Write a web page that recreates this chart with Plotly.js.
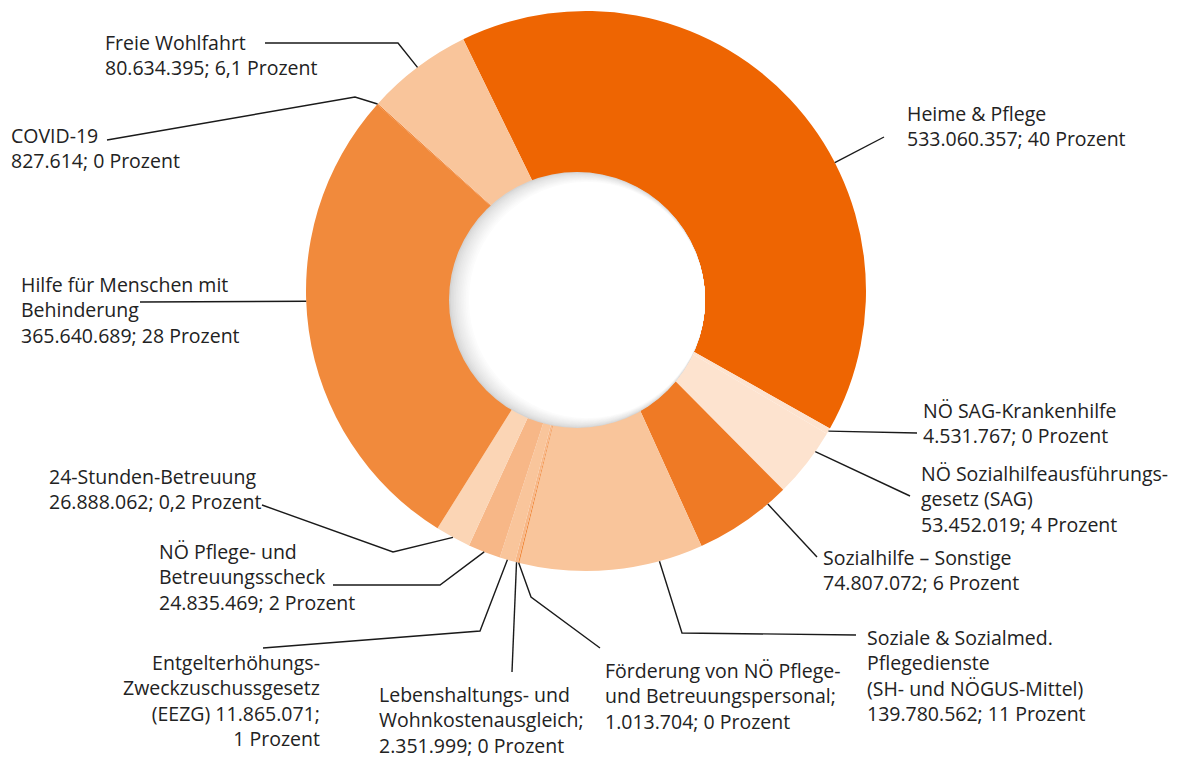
<!DOCTYPE html>
<html><head><meta charset="utf-8">
<script src="https://cdn.plot.ly/plotly-3.0.1.min.js"></script>
<style>html,body{margin:0;padding:0;background:#fff}</style>
</head><body><div id="chart" style="width:1187px;height:760px"></div>
<script>
// ---- data (clockwise, starting with "Heime & Pflege") ----
const categories = [
  "Heime & Pflege",
  "NÖ SAG-Krankenhilfe",
  "NÖ Sozialhilfeausführungsgesetz (SAG)",
  "Sozialhilfe – Sonstige",
  "Soziale & Sozialmed. Pflegedienste (SH- und NÖGUS-Mittel)",
  "Förderung von NÖ Pflege- und Betreuungspersonal",
  "Lebenshaltungs- und Wohnkostenausgleich",
  "Entgelterhöhungs-Zweckzuschussgesetz (EEZG)",
  "NÖ Pflege- und Betreuungsscheck",
  "24-Stunden-Betreuung",
  "Hilfe für Menschen mit Behinderung",
  "COVID-19",
  "Freie Wohlfahrt"
];
const values = [533060357, 4531767, 53452019, 74807072, 139780562, 1013704, 2351999,
                11865071, 24835469, 26888062, 365640689, 827614, 80634395];
const percentLabels = ["40", "0", "4", "6", "11", "0", "0", "1", "2", "0,2", "28", "0", "6,1"];
// label text templates ({v} = value, {p} = percent)
const labelTemplates = [
  "Heime & Pflege<br>{v}; {p} Prozent",
  "NÖ SAG-Krankenhilfe<br>{v}; {p} Prozent",
  "NÖ Sozialhilfeausführungs-<br>gesetz (SAG)<br>{v}; {p} Prozent",
  "Sozialhilfe – Sonstige<br>{v}; {p} Prozent",
  "Soziale & Sozialmed.<br>Pflegedienste<br>(SH- und NÖGUS-Mittel)<br>{v}; {p} Prozent",
  "Förderung von NÖ Pflege-<br>und Betreuungspersonal;<br>{v}; {p} Prozent",
  "Lebenshaltungs- und<br>Wohnkostenausgleich;<br>{v}; {p} Prozent",
  "Entgelterhöhungs-<br>Zweckzuschussgesetz<br>(EEZG) {v};<br>{p} Prozent",
  "NÖ Pflege- und<br>Betreuungsscheck<br>{v}; {p} Prozent",
  "24-Stunden-Betreuung<br>{v}; {p} Prozent",
  "Hilfe für Menschen mit<br>Behinderung<br>{v}; {p} Prozent",
  "COVID-19<br>{v}; {p} Prozent",
  "Freie Wohlfahrt<br>{v}; {p} Prozent"
];
const colors = ["#EE6502", "#FDE3CF", "#FDE3CF", "#EF7A25", "#F9C59B", "#F18A3C", "#F7B787",
                "#F9C59B", "#F7B787", "#FBD5B5", "#F18A3C", "#EF7A25", "#F9C59B"];

// ---- layout (pixels) ----
const W = 1187, H = 760;
const cx = 586, cy = 291, R = 280, ROT = -26;
const FS = 19.5;
// label placement: x, first-line centre y, anchor side, fraction inside slice for leader start, elbow, end
const labelPos = [
  {x: 905, y: 113, side: "left",  frac: 0.61, elbow: null,       end: [884, 137]},
  {x: 921, y: 410, side: "left",  frac: 0.5,  elbow: null,       end: [917, 433]},
  {x: 919, y: 473, side: "left",  frac: 0.3,  elbow: null,       end: [910, 496]},
  {x: 821, y: 557, side: "left",  frac: 0.21, elbow: null,       end: [817, 557]},
  {x: 865, y: 637, side: "left",  frac: 0.24, elbow: [682, 633], end: [856, 635]},
  {x: 603, y: 670, side: "left",  frac: 0.5,  elbow: [531, 597], end: [600, 648]},
  {x: 377, y: 694, side: "left",  frac: 0.5,  elbow: null,       end: [512, 672]},
  {x: 322, y: 662, side: "right", frac: 0.5,  elbow: [480, 631], end: [263, 648]},
  {x: 157, y: 551, side: "left",  frac: 0.5,  elbow: [440, 585], end: [333, 585]},
  {x: 47,  y: 476, side: "left",  frac: 0.5,  elbow: [393, 552], end: [262, 505]},
  {x: 19,  y: 284, side: "left",  frac: 0.56, elbow: null,       end: [140, 302]},
  {x: 9,   y: 135, side: "left",  frac: 0.5,  elbow: [355, 97],  end: [107, 140]},
  {x: 103, y: 42,  side: "left",  frac: 0.5,  elbow: [398, 43],  end: [265, 43]}
];

function fmt(n) { return String(n).replace(/\B(?=(\d{3})+(?!\d))/g, "."); }
const px = x => x / W, py = y => 1 - y / H;

const total = values.reduce((a, b) => a + b, 0);
let acc = 0;
const spans = values.map(v => { const s = ROT + acc / total * 360; acc += v; return [s, ROT + acc / total * 360]; });

const annotations = [], shapes = [];
categories.forEach((c, i) => {
  const lp = labelPos[i];
  const text = labelTemplates[i].replace("{v}", fmt(values[i])).replace("{p}", percentLabels[i]);
  annotations.push({
    xref: "paper", yref: "paper", x: px(lp.x), y: py(lp.y - FS * 0.78),
    xanchor: lp.side, yanchor: "top", align: lp.side, showarrow: false,
    text: text, font: {family: "Open Sans, sans-serif", size: FS, color: "#222222"}
  });
  const a = (spans[i][0] + lp.frac * (spans[i][1] - spans[i][0])) * Math.PI / 180;
  const ax = cx + R * Math.sin(a), ay = cy - R * Math.cos(a);
  let path = "M" + px(ax) + "," + py(ay);
  if (lp.elbow) path += " L" + px(lp.elbow[0]) + "," + py(lp.elbow[1]);
  path += " L" + px(lp.end[0]) + "," + py(lp.end[1]);
  shapes.push({type: "path", xref: "paper", yref: "paper", path: path, line: {color: "#1a1a1a", width: 1.4}, layer: "above"});
});

// donut hole with a soft shadow on its left side (hole offset from ring centre as in the original)
const HX = 577, HY = 300, HR = 128, STEPS = 12, SHIFT = 10;
for (let k = 0; k <= STEPS; k++) {
  const t = k / STEPS;
  const g = Math.round(212 + (255 - 212) * Math.pow(t, 0.7));
  const ccx = HX + SHIFT * t, rr = HR - SHIFT * t;
  shapes.push({type: "circle", xref: "paper", yref: "paper",
    x0: px(ccx - rr), x1: px(ccx + rr), y0: py(HY + rr), y1: py(HY - rr),
    fillcolor: "rgb(" + g + "," + g + "," + g + ")", line: {width: 0}, layer: "above"});
}

const trace = {
  type: "pie", labels: categories, values: values, sort: false, direction: "clockwise",
  rotation: ROT, hole: 0.4, textinfo: "none", hoverinfo: "label+value",
  marker: {colors: colors, line: {width: 0}},
  domain: {x: [px(cx - R), px(cx + R)], y: [py(cy + R), py(cy - R)]}
};
const layout = {
  width: W, height: H, margin: {l: 0, r: 0, t: 0, b: 0}, showlegend: false,
  paper_bgcolor: "#ffffff", annotations: annotations, shapes: shapes
};
Plotly.newPlot("chart", [trace], layout, {displayModeBar: false, staticPlot: true});
</script></body></html>
